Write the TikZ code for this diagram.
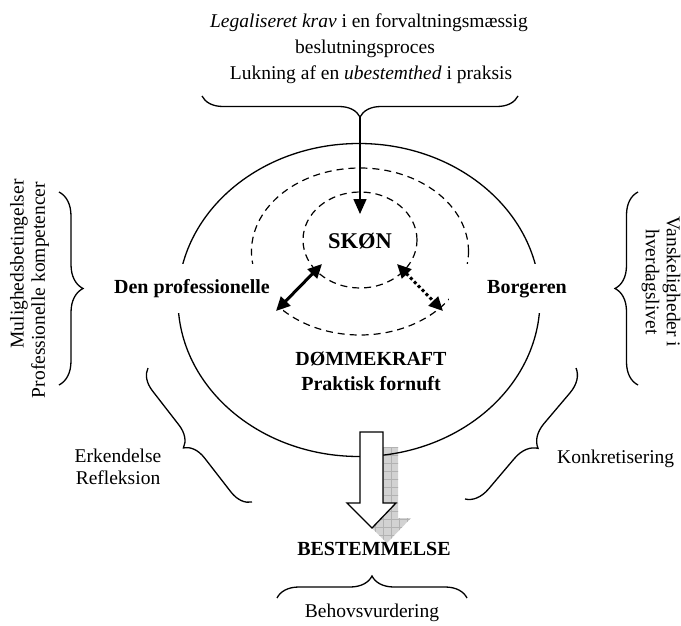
\documentclass[tikz,border=0pt]{standalone}
\usepackage{fontspec}
\setmainfont{Liberation Serif}
\usetikzlibrary{shapes.geometric,decorations.pathreplacing,arrows.meta}
\begin{document}
\begin{tikzpicture}[x=1pt,y=-1pt,
  plain/.style={font=\fontsize{19.5}{21}\selectfont, inner sep=0pt},
  heavy/.style={font=\fontsize{20}{21}\selectfont\bfseries, inner sep=0pt},
  ring/.style={draw, ellipse, inner sep=0pt, line width=1.3pt},
  dashring/.style={ring, line width=1.2pt, dash pattern=on 7pt off 5pt},
  bracket/.style={decorate, decoration={brace, amplitude=#1}, line width=1.3pt},
  mask/.style={fill=white, inner sep=0pt, minimum height=49pt},
  tip/.style={-{Triangle[length=15pt,width=13pt]}, line width=1.6pt},
  twin/.style={{Triangle[length=14pt,width=13pt]}-{Triangle[length=14pt,width=13pt]}, line width=3pt},
]
\useasboundingbox (0,0) rectangle (681,626);

% shadow of the block arrow: grey with a grid
\begin{scope}[shift={(15,15)}]
  \fill[gray!35] (360,432) -- (383,432) -- (383,503) -- (396,503) -- (372,528) -- (347,503) -- (360,503) -- cycle;
  \clip (360,432) -- (383,432) -- (383,503) -- (396,503) -- (372,528) -- (347,503) -- (360,503) -- cycle;
  \draw[gray!60, line width=0.6pt, step=8pt] (336,536) grid (400,424);
\end{scope}

% the three rings
\node[ring, minimum width=362pt, minimum height=313pt] (outer) at (359,300) {};
\node[dashring, minimum width=217pt, minimum height=167pt] (middle) at (360,251.5) {};
\node[dashring, minimum width=114pt, minimum height=96pt] (inner) at (360,240) {};

% labels on the rings
\node[mask, minimum width=182pt] (prof) at (192,288.5) {};
\node[heavy, anchor=base] (proftext) at (192,293) {Den professionelle};
\node[mask, minimum width=156pt] (borg) at (527,288.5) {};
\node[heavy, anchor=base] (borgtext) at (527,293) {Borgeren};

\node[font=\fontsize{22.5}{24}\selectfont\bfseries, inner sep=0pt, anchor=base] (skon) at (360,248) {SKØN};
\node[heavy, anchor=base] (dom) at (371,365) {DØMMEKRAFT};
\node[heavy, anchor=base] (prak) at (371,390) {Praktisk fornuft};

% top text and its brace
\node[plain, anchor=base] (t1) at (369,28) {\textit{Legaliseret krav} i en forvaltningsmæssig};
\node[plain, anchor=base] (t2) at (365,54) {beslutningsproces};
\node[plain, anchor=base] (t3) at (371,80) {Lukning af en \textit{ubestemthed} i praksis};
\draw[bracket=21pt] (518,96) -- (202,96);
\coordinate (bracetip) at (360,117);
\coordinate (skontop) at (360,214);
\draw[tip] (bracetip) -- (skontop);

% relations to SKØN
\coordinate (pa) at (276,311);
\coordinate (pb) at (322,264);
\coordinate (ba) at (397,264);
\coordinate (bb) at (443,311);
\draw[twin] (pa) -- (pb);
\draw[twin, dash pattern=on 3pt off 2.6pt] (ba) -- (bb);

% side texts and braces
\node[plain, rotate=90] (mul1) at (19,264) {Mulighedsbetingelser};
\node[plain, rotate=90] (mul2) at (40,290) {Professionelle kompetencer};
\draw[bracket=24pt] (59,192) -- (59,385);
\node[plain, rotate=-90, align=center] (van) at (661,282) {Vanskeligheder i\\hverdagslivet};
\draw[bracket=23pt] (638,385) -- (638,192);

\draw[bracket=21pt] (252,502) -- (148,368);
\node[plain, anchor=base] (erk) at (118,462) {Erkendelse};
\node[plain, anchor=base] (ref) at (118,484) {Refleksion};
\draw[bracket=23pt] (576,368) -- (465,499);
\node[plain, anchor=base west] (konk) at (557,463) {Konkretisering};

% block arrow towards the determination
\draw[fill=white, line width=1.3pt, line join=miter] (360,432) -- (383,432) -- (383,503) -- (396,503) -- (372,528) -- (347,503) -- (360,503) -- cycle;
\node[heavy, anchor=base] (best) at (374,555) {BESTEMMELSE};
\draw[bracket=22pt] (277,598) -- (467,598);
\node[plain, anchor=base] (beh) at (372,617) {Behovsvurdering};
\end{tikzpicture}
\end{document}
